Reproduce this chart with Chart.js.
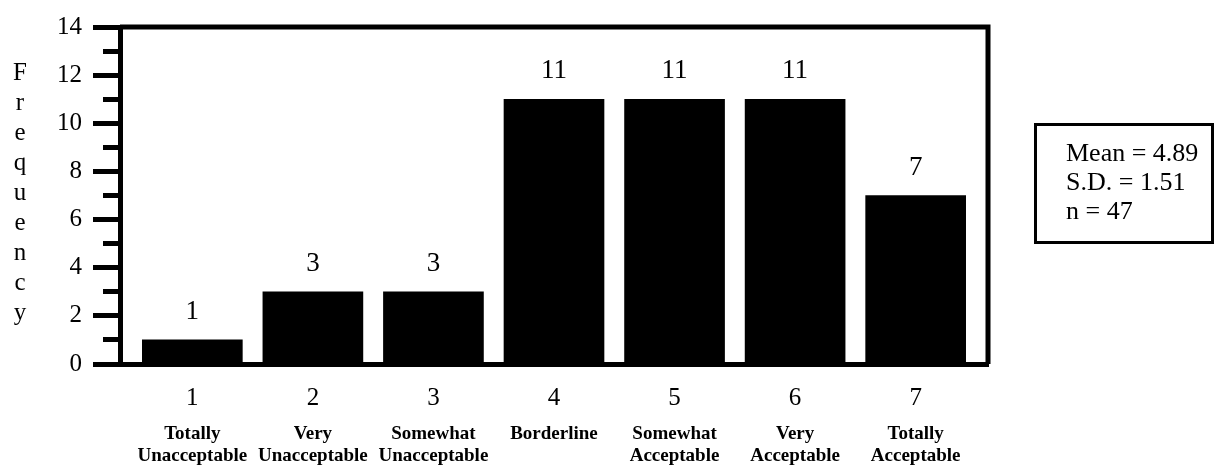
<!DOCTYPE html>
<html>
<head>
<meta charset="utf-8">
<script src="https://cdn.jsdelivr.net/npm/chart.js@4.4.1/dist/chart.umd.min.js"></script>
<style>
  html, body { margin: 0; padding: 0; background: #fff; }
  #wrap { position: relative; width: 1216px; height: 466px; overflow: hidden; }
  #chart { position: absolute; left: 0; top: 0; }
  #ylabel {
    position: absolute; left: 0; top: 57px; width: 40px;
    font-family: "Liberation Serif", "Times New Roman", serif;
    font-size: 25px; line-height: 30px; text-align: center; color: #000;
  }
  #stats {
    position: absolute; left: 1034px; top: 123px; width: 180px; height: 121px;
    border: 3px solid #000; box-sizing: border-box;
    font-family: "Liberation Serif", "Times New Roman", serif;
    font-size: 26px; line-height: 29px; color: #000;
    padding: 12px 0 0 29px; white-space: nowrap;
  }
</style>
</head>
<body>
<div id="wrap">
  <canvas id="chart" width="1216" height="466"></canvas>
  <div id="ylabel">F<br>r<br>e<br>q<br>u<br>e<br>n<br>c<br>y</div>
  <div id="stats">Mean = 4.89<br>S.D. = 1.51<br>n = 47</div>
</div>
<script>
// Rating scale points and their verbal anchors
const ratings = [1, 2, 3, 4, 5, 6, 7];
const anchors = [
  ["Totally", "Unacceptable"],
  ["Very", "Unacceptable"],
  ["Somewhat", "Unacceptable"],
  ["Borderline"],
  ["Somewhat", "Acceptable"],
  ["Very", "Acceptable"],
  ["Totally", "Acceptable"]
];
// Number of responses at each rating
const frequency = [1, 3, 3, 11, 11, 11, 7];
// Frequency axis range
const yMin = 0;
const yMax = 14;

const serif = '"Liberation Serif", "Times New Roman", serif';

// Value labels above each bar
const valueLabels = {
  id: 'valueLabels',
  afterDatasetsDraw(chart) {
    const ctx = chart.ctx;
    const meta = chart.getDatasetMeta(0);
    ctx.save();
    ctx.fillStyle = '#000';
    ctx.font = '27px ' + serif;
    ctx.textAlign = 'center';
    ctx.textBaseline = 'middle';
    meta.data.forEach((bar, i) => {
      ctx.fillText(String(frequency[i]), bar.x, bar.y - 28);
    });
    ctx.restore();
  }
};

// Closes the plot frame on the top and right sides
const plotFrame = {
  id: 'plotFrame',
  afterDraw(chart) {
    const a = chart.chartArea;
    const ctx = chart.ctx;
    ctx.save();
    ctx.strokeStyle = '#000';
    ctx.lineWidth = 5;
    ctx.beginPath();
    ctx.moveTo(a.left, a.top);
    ctx.lineTo(a.right, a.top);
    ctx.lineTo(a.right, a.bottom);
    ctx.stroke();
    ctx.restore();
  }
};

const setRatingTicks = (scale) => {
  scale.ticks = ratings.map(v => ({ value: v }));
};

new Chart(document.getElementById('chart'), {
  type: 'bar',
  data: {
    datasets: [{
      data: ratings.map((r, i) => ({ x: r, y: frequency[i] })),
      backgroundColor: '#000',
      borderWidth: 0,
      barThickness: 100
    }]
  },
  options: {
    responsive: false,
    devicePixelRatio: 1,
    animation: false,
    layout: { padding: { left: 0, right: 228, top: 27, bottom: 0 } },
    plugins: { legend: { display: false }, tooltip: { enabled: false } },
    scales: {
      x: {
        type: 'linear',
        position: 'bottom',
        offset: false,
        min: 0.4,
        max: 7.6,
        afterBuildTicks: setRatingTicks,
        afterFit: (s) => { s.height = 48; },
        grid: { display: false, drawTicks: false, offset: false },
        border: { display: true, color: '#000', width: 5 },
        ticks: {
          color: '#000',
          font: { family: serif, size: 25 },
          padding: 19,
          maxRotation: 0,
          autoSkip: false,
          callback: (v) => String(v)
        }
      },
      x2: {
        type: 'linear',
        position: 'bottom',
        offset: false,
        min: 0.4,
        max: 7.6,
        afterBuildTicks: setRatingTicks,
        afterFit: (s) => { s.height = 54; },
        grid: { display: false, drawTicks: false, offset: false },
        border: { display: false },
        ticks: {
          color: '#000',
          font: { family: serif, size: 19, weight: 'bold', lineHeight: 1.15 },
          padding: 11,
          maxRotation: 0,
          autoSkip: false,
          callback: (v) => anchors[ratings.indexOf(v)] || ''
        }
      },
      y: {
        min: yMin,
        max: yMax,
        afterFit: (s) => { s.width = 120; },
        border: { display: true, color: '#000', width: 5 },
        grid: {
          drawOnChartArea: false,
          drawTicks: true,
          tickLength: 27,
          tickWidth: 5,
          tickColor: '#000',
          // odd values get a shorter (minor) tick mark
          tickBorderDash: (ctx) => (ctx.tick && ctx.tick.value % 2 !== 0) ? [0, 10, 40, 0] : []
        },
        ticks: {
          stepSize: 1,
          color: '#000',
          font: { family: serif, size: 25 },
          padding: 11,
          autoSkip: false,
          callback: (v) => (v % 2 === 0 ? String(v) : '')
        }
      }
    }
  },
  plugins: [valueLabels, plotFrame]
});
</script>
</body>
</html>
